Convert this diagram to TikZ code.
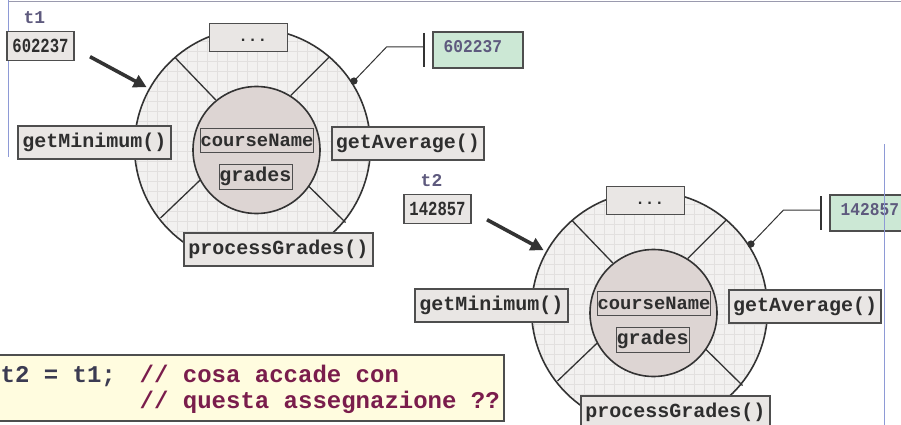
\documentclass[tikz,border=0pt]{standalone}
\usepackage{fontspec}
\usepackage{graphicx}
\setmonofont{Liberation Mono}
\usetikzlibrary{arrows.meta}

\definecolor{boxfill}{HTML}{E9E6E4}
\definecolor{boxline}{HTML}{4E4E4E}
\definecolor{inktext}{HTML}{2E2E2E}
\definecolor{ringfill}{HTML}{F2F1F0}
\definecolor{gridcol}{HTML}{E2E0DF}
\definecolor{corefill}{HTML}{DDD5D3}
\definecolor{darkline}{HTML}{333333}
\definecolor{objfill}{HTML}{CCE8D5}
\definecolor{varcol}{HTML}{5E5A7E}
\definecolor{codefill}{HTML}{FFFCDF}
\definecolor{codeplain}{HTML}{3B3B52}
\definecolor{commentcol}{HTML}{7A1D4C}
\definecolor{framecol}{HTML}{8E9AD6}
\definecolor{topcol}{HTML}{9A9AAE}

\newcommand{\narrowdigits}[2][0.8]{\scalebox{#1}[1]{#2}}

\tikzset{
  mono/.style={font=\ttfamily\bfseries\fontsize{#1}{#1}\selectfont},
  mbox/.style={draw=boxline, fill=boxfill, line width=1.1pt, inner sep=0pt,
    text=inktext, mono=20},
  fieldbox/.style={draw=boxline, line width=0.9pt, inner sep=0pt, text=inktext, mono=20},
  spoke/.style={draw=darkline, line width=1.3pt},
  ringline/.style={draw=darkline, line width=1.6pt},
  gridln/.style={draw=gridcol, line width=0.5pt},
  varlabel/.style={inner sep=0pt, text=varcol, mono=18},
  objbox/.style={draw=boxline, fill=objfill, line width=1.1pt, inner sep=0pt},
  objtext/.style={inner sep=0pt, text=varcol, mono=18, anchor=west},
  refarrow/.style={draw=darkline, line width=3.6pt,
    -{Triangle[length=13pt,width=13pt]}},
  linkline/.style={draw=darkline, line width=1pt},
  codetext/.style={inner sep=0pt, anchor=base west, mono=24},
  % one object: ring of methods around its fields, its reference variable and the stored address
  pics/gradebook/.style 2 args={code={
    \begin{scope}
      \clip (0,0) circle[radius=118];
      \fill[ringfill] (-120,-120) rectangle (120,120);
      \foreach \k in {-115,-105,...,115} {
        \draw[gridln] (\k,-120) -- (\k,120);
        \draw[gridln] (-120,\k) -- (120,\k);
      }
    \end{scope}
    \draw[ringline] (0,0) circle[radius=118];
    \node[circle, draw=darkline, line width=1.6pt, fill=corefill, inner sep=0pt,
      minimum size=127pt] (-core) at (4,3.5) {};
    \draw[spoke] (-77.8,-89.3) -- (-36.8,-46.6);
    \draw[spoke] (77.2,-90) -- (38.2,-51);
    \draw[spoke] (-92,71.5) -- (-52.3,33.5);
    \draw[spoke] (93,76) -- (56.3,39.8);
    \node[mbox, minimum width=78pt, minimum height=28.5pt] (-more) at (-4,-109) {};
    \node[inner sep=0pt, text=inktext, mono=16] (-dots) at (0.2,-105.8) {...};
    \node[mbox, minimum width=153pt, minimum height=33pt] (-min) at (-158,-4) {getMinimum()};
    \node[mbox, minimum width=152pt, minimum height=33pt] (-avg) at (155.5,-3) {getAverage()};
    \node[mbox, minimum width=189pt, minimum height=33pt] (-proc) at (26,103) {processGrades()};
    \node[fieldbox, mono=18.8, minimum width=112pt, minimum height=24pt] (-course) at (4.5,-6.5) {courseName};
    \node[fieldbox, minimum width=73pt, minimum height=25pt] (-grades) at (3,30) {grades};
    % reference variable
    \node[varlabel] (-var) at (-218,-128.5) {#1};
    \node[mbox, mono=20, minimum width=67pt, minimum height=28.5pt] (-ref) at (-212,-100.5)
      {\narrowdigits[0.78]{#2}};
    \coordinate (-from) at (-162.5,-89.8);
    \coordinate (-to) at (-105.8,-59.2);
    \draw[refarrow] (-from) -- (-to);
    % stored address
    \coordinate (-dot) at (101.5,-65.5);
    \coordinate (-elbow) at (134,-99.5);
    \coordinate (-bar) at (171.5,-99.5);
    \coordinate (-bartop) at (171.5,-113.5);
    \coordinate (-barbot) at (171.5,-79.5);
    \fill[darkline] (-dot) circle[radius=3.6];
    \draw[linkline] (-dot) -- (-elbow) -- (-bar);
    \draw[linkline, line width=1.3pt] (-bartop) -- (-barbot);
    \node[objbox, minimum width=90pt, minimum height=36pt] (-obj) at (225.5,-96.5) {};
    \node[objtext] (-objval) at (191,-99.5) {\narrowdigits[0.9]{#2}};
  }}
}

\begin{document}
\begin{tikzpicture}[x=1pt, y=-1pt]
  \useasboundingbox (0,0) rectangle (901,425);
  \fill[white] (0,0) rectangle (901,425);

  % page frame lines
  \coordinate (topl) at (8,1.5);
  \coordinate (topr) at (901,1.5);
  \draw[topcol, line width=1.2pt] (topl) -- (topr);
  \coordinate (lefttop) at (8.3,0);
  \coordinate (leftbot) at (8.3,157);
  \draw[framecol, line width=1pt] (lefttop) -- (leftbot);

  \pic (one) at (252.5,146.5) {gradebook={t1}{602237}};
  \pic (two) at (649.5,309.5) {gradebook={t2}{142857}};

  \coordinate (righttop) at (884,144);
  \coordinate (rightbot) at (884,425);
  \draw[framecol, line width=1pt] (righttop) -- (rightbot);

  % the assignment in question
  \node[draw=boxline, fill=codefill, line width=1.4pt, inner sep=0pt,
    minimum width=514pt, minimum height=66pt] (code) at (247,388) {};
  \node[codetext, text=codeplain] (stmt) at (0.5,382) {t2 = t1;};
  \node[codetext, text=commentcol] (cmt1) at (139.5,382) {// cosa accade con};
  \node[codetext, text=commentcol] (cmt2) at (139.5,408) {// questa assegnazione ??};
\end{tikzpicture}
\end{document}
